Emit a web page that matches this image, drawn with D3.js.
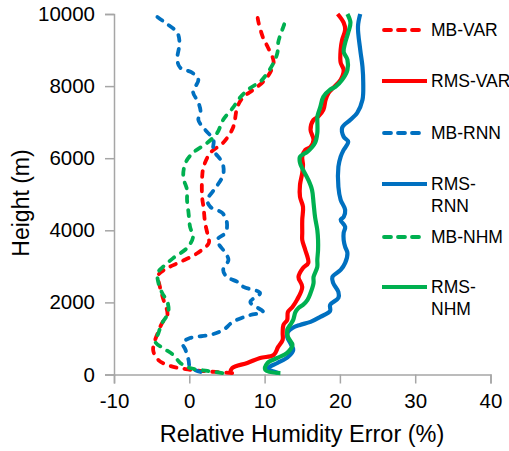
<!DOCTYPE html>
<html><head><meta charset="utf-8">
<script src="https://cdn.jsdelivr.net/npm/d3@7"></script>
<style>body{margin:0;background:#fff}svg{display:block}text{font-family:"Liberation Sans",Arial,Helvetica,sans-serif;fill:#000}</style>
</head><body><div id="chart"></div>
<script>
// [value (%), height (m)]
const mbVar = [[5.7,40],[3.5,70],[1.5,100],[-0.5,150],[-2.5,235],[-4.1,400],[-4.8,680],[-4.2,1150],[-3.6,1430],[-2.9,1650],[-3.5,2120],[-3.9,2430],[-4.1,2760],[-2.9,2955],[-1.2,3120],[1.1,3370],[2.6,3650],[2.5,3820],[2.1,4205],[1.9,4620],[1.7,4930],[1.7,5455],[1.9,5760],[2.8,6150],[4.5,6430],[5.8,6845],[6.4,7430],[7.2,7700],[8.5,7900],[9.8,8120],[10.8,8400],[11.2,8675],[10.4,9090],[9.8,9340],[9.2,9760],[9.0,10000]];
const rmsVar = [[5.4,40],[5.7,180],[7.7,320],[9.4,460],[11.2,540],[11.8,765],[12.4,960],[12.4,1150],[12.5,1375],[13.0,1515],[13.1,1735],[13.7,1875],[14.3,2070],[15.0,2430],[14.5,2705],[15.1,2955],[15.8,3095],[15.4,3455],[15.0,3730],[15.0,3930],[15.0,4290],[15.1,4650],[14.7,4930],[14.7,5260],[15.0,5590],[15.1,5815],[15.0,6040],[15.4,6230],[16.1,6315],[16.5,6510],[16.1,6790],[16.5,7065],[17.1,7150],[17.8,7340],[18.1,7620],[18.5,7815],[19.1,7950],[20.1,8175],[20.5,8450],[20.1,8650],[20.1,9010],[20.3,9285],[20.7,9565],[20.5,9760],[19.7,10000]];
const mbRnn = [[1.5,70],[0.1,210],[-0.1,400],[-0.5,680],[-0.9,875],[0.1,1010],[2.8,1100],[4.5,1235],[5.8,1460],[8.1,1650],[9.8,1735],[8.1,2010],[9.4,2260],[7.2,2430],[6.4,2570],[5.0,2705],[4.5,2900],[5.2,3180],[4.8,3370],[3.7,3730],[4.8,3930],[5.0,4205],[4.4,4480],[2.8,4650],[2.4,4845],[3.5,5180],[4.5,5540],[4.4,5870],[3.2,6230],[3.2,6510],[2.1,6790],[1.2,7065],[1.5,7260],[1.2,7550],[0.5,7840],[1.2,8175],[0.4,8370],[-1.2,8510],[-1.6,8730],[-1.3,9200],[-1.6,9480],[-3.2,9760],[-4.8,10000]];
const rmsRnn = [[11.8,40],[10.5,180],[11.7,320],[13.1,485],[13.8,680],[13.4,875],[13.0,1040],[13.1,1180],[13.7,1290],[14.7,1375],[16.1,1460],[17.4,1600],[18.7,1760],[18.7,1930],[19.8,2125],[19.8,2290],[19.1,2540],[19.0,2705],[20.1,2900],[20.7,3095],[21.0,3370],[20.7,3540],[20.5,3730],[20.5,3930],[20.7,4095],[20.1,4290],[20.5,4370],[20.7,4565],[20.1,4845],[19.8,5205],[19.8,5760],[20.1,6040],[20.5,6230],[21.1,6455],[20.5,6595],[20.3,6845],[21.4,7065],[22.3,7260],[23.0,7620],[23.1,8090],[23.0,8535],[22.7,9010],[22.4,9650],[22.7,10000]];
const mbNhm = [[4.4,40],[2.4,100],[0.1,180],[-1.2,320],[-2.1,540],[-3.5,735],[-4.5,900],[-4.1,1150],[-3.6,1430],[-2.8,1710],[-2.9,2010],[-3.6,2260],[-4.1,2540],[-4.2,2820],[-3.5,2985],[-2.1,3235],[-0.3,3510],[0.5,3820],[0.1,4095],[-0.1,4480],[-0.3,4845],[-0.3,5120],[-0.8,5480],[-0.5,5870],[0.5,6150],[2.4,6430],[3.7,6700],[4.5,7065],[5.8,7400],[6.8,7700],[8.1,7950],[9.4,8120],[10.4,8370],[11.2,8650],[11.7,8925],[11.8,9200],[12.1,9425],[12.5,9650],[12.9,9900]];
const rmsNhm = [[12.1,40],[10.1,125],[10.4,320],[11.7,460],[13.0,600],[13.7,820],[13.1,1040],[13.0,1235],[13.4,1375],[13.8,1515],[14.1,1735],[14.5,1845],[15.1,1930],[15.7,2070],[16.1,2260],[16.5,2540],[16.5,2705],[17.0,2985],[17.0,3180],[17.1,3455],[17.1,3730],[17.0,4010],[16.7,4370],[16.5,4760],[16.3,5120],[15.8,5400],[15.1,5680],[14.7,5870],[14.7,6040],[15.7,6180],[16.7,6425],[17.0,6700],[17.0,7065],[17.0,7150],[17.4,7425],[17.8,7700],[18.7,7900],[19.4,7980],[20.3,8175],[21.0,8450],[21.0,8730],[20.5,8950],[20.7,9200],[21.1,9480],[21.4,9760],[21.0,10000]];

const seriesNames = ["MB-VAR","RMS-VAR","MB-RNN","RMS-RNN","MB-NHM","RMS-NHM"];
const seriesData = [mbVar, rmsVar, mbRnn, rmsRnn, mbNhm, rmsNhm];
const seriesColors = ["#ff0000","#ff0000","#0070c0","#0070c0","#00b050","#00b050"];
const seriesDashed = [true,false,true,false,true,false];
const legendLabels = [["MB-VAR"],["RMS-VAR"],["MB-RNN"],["RMS-","RNN"],["MB-NHM"],["RMS-","NHM"]];
const xTicks = [-10,0,10,20,30,40];
const yTicks = [0,2000,4000,6000,8000,10000];

const W = 509, H = 451;
const m = {left:114, right:490.5, top:14, bottom:374.5};
const svg = d3.select("#chart").append("svg").attr("width",W).attr("height",H);
const x = d3.scaleLinear().domain([-10,40]).range([m.left,m.right]);
const y = d3.scaleLinear().domain([0,10000]).range([m.bottom,m.top]);

const axisColor = "#a6a6a6";
const gx = svg.append("g").attr("transform",`translate(0,${m.bottom})`)
  .call(d3.axisBottom(x).tickValues(xTicks).tickSize(9).tickPadding(9).tickFormat(d=>String(d)));
const gy = svg.append("g").attr("transform",`translate(${m.left},0)`)
  .call(d3.axisLeft(y).tickValues(yTicks).tickSize(9).tickPadding(10).tickFormat(d=>String(d)));
[gx,gy].forEach(g=>{
  g.select(".domain").attr("stroke",axisColor).attr("stroke-width",1.5);
  g.selectAll(".tick line").attr("stroke",axisColor).attr("stroke-width",1.5);
  g.selectAll(".tick text").attr("font-size",20.5).attr("fill","#000")
   .style("font-family",'"Liberation Sans",Arial,sans-serif');
});
gx.selectAll(".tick text").attr("dy","0.75em");

svg.append("text").attr("x",302).attr("y",442).attr("text-anchor","middle")
  .attr("font-size",23.5).text("Relative Humidity Error (%)");
svg.append("text").attr("transform","translate(29,203) rotate(-90)").attr("text-anchor","middle")
  .attr("font-size",23).text("Height (m)");

const line = d3.line().x(d=>x(d[0])).y(d=>y(d[1])).curve(d3.curveCatmullRom.alpha(0.5));
seriesData.forEach((data,i)=>{
  svg.append("path").datum(data).attr("d",line)
    .attr("fill","none").attr("stroke",seriesColors[i])
    .attr("stroke-width",seriesDashed[i]?3.8:4.2)
    .attr("stroke-linecap",seriesDashed[i]?"round":"butt")
    .attr("stroke-linejoin","round")
    .attr("stroke-dasharray",seriesDashed[i]?"6,8":null);
});

const legendY = [30,81,133,184,237,287];
const lg = svg.append("g");
seriesNames.forEach((n,i)=>{
  const yy = legendY[i];
  if(seriesDashed[i]){
    lg.append("line").attr("x1",384).attr("x2",422).attr("y1",yy).attr("y2",yy)
      .attr("stroke",seriesColors[i]).attr("stroke-width",3.8).attr("stroke-linecap","round")
      .attr("stroke-dasharray","7,7");
  } else {
    lg.append("line").attr("x1",382).attr("x2",427).attr("y1",yy).attr("y2",yy)
      .attr("stroke",seriesColors[i]).attr("stroke-width",4.2);
  }
  legendLabels[i].forEach((t,j)=>{
    lg.append("text").attr("x",431).attr("y",yy+j*22).attr("dy","0.35em")
      .attr("font-size",17.5).text(t);
  });
});
</script></body></html>
